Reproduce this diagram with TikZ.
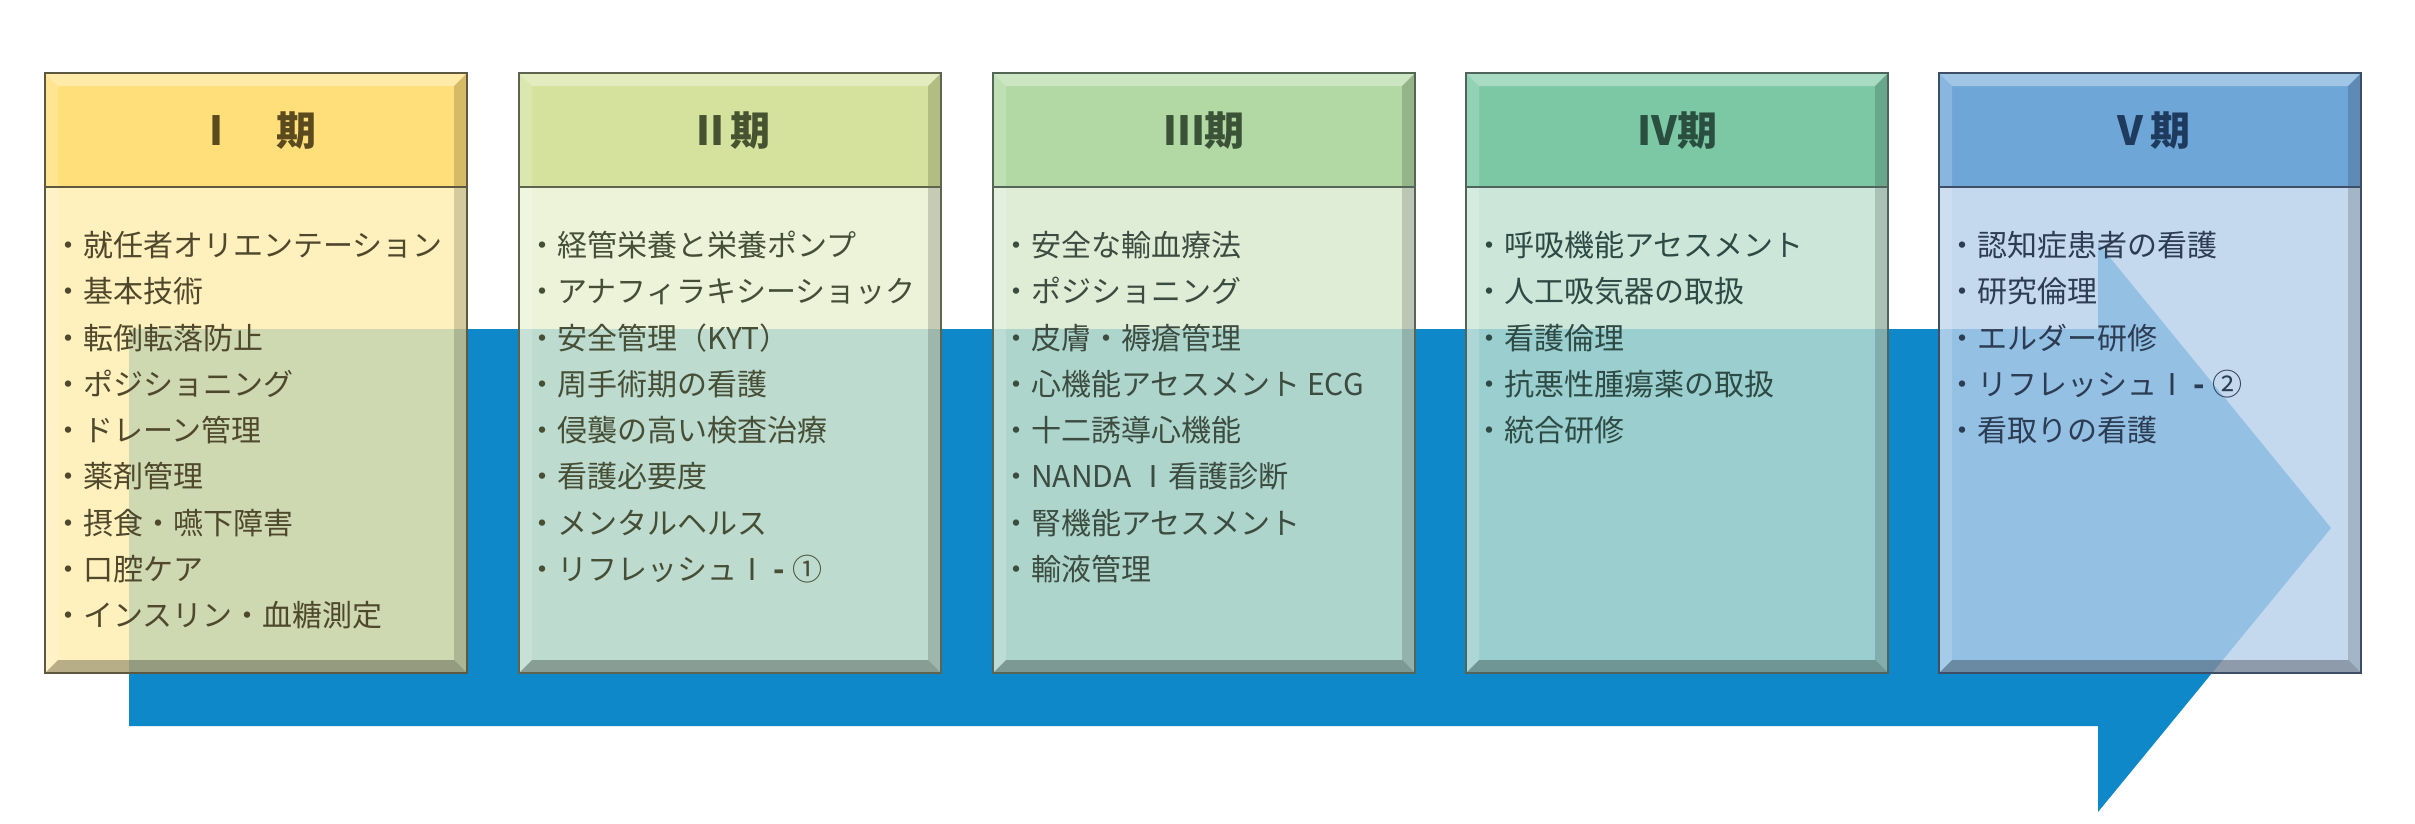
\documentclass[tikz,border=0pt]{standalone}
\usepackage{fontspec}
\setmainfont{Noto Sans CJK JP}
\definecolor{arrowblue}{HTML}{0E88C9}
\definecolor{hA}{HTML}{FFDF7A}\definecolor{bA}{HTML}{FFEDAC}\definecolor{tA}{HTML}{4F482C}\definecolor{kA}{HTML}{5E5840}\definecolor{gA}{HTML}{5A4A1E}
\definecolor{hB}{HTML}{D5E29E}\definecolor{bB}{HTML}{E9F0D0}\definecolor{tB}{HTML}{464E36}\definecolor{kB}{HTML}{5E6450}\definecolor{gB}{HTML}{465230}
\definecolor{hC}{HTML}{B2D8A4}\definecolor{bC}{HTML}{D7E9CD}\definecolor{tC}{HTML}{3C4C40}\definecolor{kC}{HTML}{566656}\definecolor{gC}{HTML}{3A5236}
\definecolor{hD}{HTML}{7CC8A4}\definecolor{bD}{HTML}{BFE1D1}\definecolor{tD}{HTML}{2E4A44}\definecolor{kD}{HTML}{4E645C}\definecolor{gD}{HTML}{2A4E40}
\definecolor{hE}{HTML}{6FA6D8}\definecolor{bE}{HTML}{B5CEEA}\definecolor{tE}{HTML}{2C3C52}\definecolor{kE}{HTML}{3E4E66}\definecolor{gE}{HTML}{1E3A5C}
\tikzset{
  titletext/.style={font=\fontsize{40}{48}\selectfont\bfseries, anchor=base, inner sep=0pt},
  itemtext/.style={font=\fontsize{30}{36}\selectfont, anchor=base west, inner sep=0pt},
}
\newcommand\phasebox[8]{%
  \begin{scope}[shift={(#2,0)}]
    \fill[h#1] (0,73) rectangle (422,187);
    \fill[b#1, fill opacity=0.8] (0,187) rectangle (422,673);
    \fill[white, fill opacity=0.35] (0,73) -- (422,73) -- (409,86) -- (13,86) -- cycle;
    \fill[white, fill opacity=0.18] (0,73) -- (13,86) -- (13,660) -- (0,673) -- cycle;
    \fill[black, fill opacity=0.16] (422,73) -- (422,673) -- (409,660) -- (409,86) -- cycle;
    \fill[black, fill opacity=0.28] (0,673) -- (422,673) -- (409,660) -- (13,660) -- cycle;
    \draw[k#1, line width=2] (0,73) rectangle (422,673);
    \draw[k#1, line width=2] (0,187) -- (422,187);
    \node[titletext, text=g#1] (title#1) at (211,145) {#7};
    \foreach \t [count=\i] in {#8} {
      \node[itemtext, text=t#1] (item#1\i) at (8,{256.5+46.25*(\i-1)}) {・\t};
    }
  \end{scope}}
\begin{document}
\begin{tikzpicture}[x=1pt,y=-1pt]
\useasboundingbox (0,0) rectangle (2415,823);
\fill[arrowblue] (129,329) -- (2098,329) -- (2098,243) -- (2331,528) -- (2098,812) -- (2098,726) -- (129,726) -- cycle;
\phasebox{A}{45}{}{}{}{}{Ⅰ　期}{就任者オリエンテーション,基本技術,転倒転落防止,ポジショニング,ドレーン管理,薬剤管理,摂食・嚥下障害,口腔ケア,インスリン・血糖測定}
\phasebox{B}{519}{}{}{}{}{Ⅱ期}{経管栄養と栄養ポンプ,アナフィラキシーショック,安全管理（KYT）,周手術期の看護,侵襲の高い検査治療,看護必要度,メンタルヘルス,リフレッシュⅠ \textbf{-} ①}
\phasebox{C}{993}{}{}{}{}{Ⅲ期}{安全な輸血療法,ポジショニング,皮膚・褥瘡管理,心機能アセスメント ECG,十二誘導心機能,NANDA Ⅰ看護診断,腎機能アセスメント,輸液管理}
\phasebox{D}{1466}{}{}{}{}{Ⅳ期}{呼吸機能アセスメント,人工吸気器の取扱,看護倫理,抗悪性腫瘍薬の取扱,統合研修}
\phasebox{E}{1939}{}{}{}{}{Ⅴ期}{認知症患者の看護,研究倫理,エルダー研修,リフレッシュⅠ \textbf{-} ②,看取りの看護}
\end{tikzpicture}
\end{document}
